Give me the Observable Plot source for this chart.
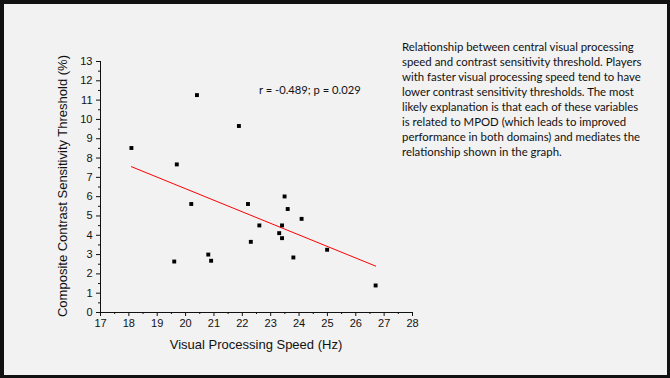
<!DOCTYPE html>
<html>
<head>
<meta charset="utf-8">
<script src="https://cdn.jsdelivr.net/npm/d3@7"></script>
<script src="https://cdn.jsdelivr.net/npm/@observablehq/plot@0.6"></script>
<style>
  html, body { margin: 0; padding: 0; background: #f2f2f2; }
  #wrap { position: relative; width: 670px; height: 378px; overflow: hidden; background: #f2f2f2; }
  #wrap svg { position: absolute; left: 0; top: 0; }
  #frame { position: absolute; left: 0; top: 0; width: 670px; height: 378px; box-sizing: border-box;
           border-top: 4px solid #111; border-left: 4px solid #111; border-right: 3px solid #111; border-bottom: 3px solid #111; }
  .t { position: absolute; white-space: nowrap; color: #111; }
  #note { left: 402px; top: 39px; font-family: Lato, "Open Sans", sans-serif; font-size: 11.4px; line-height: 15px; }
  #stat { left: 259px; top: 82px; font-family: Lato, "Open Sans", sans-serif; font-size: 11.2px; line-height: 15px; }
  #xt { left: 156px; width: 200px; text-align: center; top: 337px; font-family: "Liberation Sans", Arial, sans-serif; font-size: 13px; line-height: 15px; }
  #yt { left: 62px; top: 186px; font-family: "Liberation Sans", Arial, sans-serif; font-size: 13px; line-height: 15px;
        transform: translate(-50%, -50%) rotate(-90deg); }
</style>
</head>
<body>
<div id="wrap"></div>
<script>
// Data
const speed = [19.6, 20.2, 20.8, 20.9, 18.09, 19.69, 20.4, 21.88, 22.2, 22.3, 22.6, 23.49, 23.6, 23.4, 23.3, 23.4, 24.09, 23.8, 24.99, 26.7];
const threshold = [2.64, 5.62, 3.0, 2.68, 8.52, 7.67, 11.26, 9.66, 5.62, 3.66, 4.51, 6.01, 5.36, 4.51, 4.11, 3.85, 4.85, 2.85, 3.25, 1.40];
const xTicks = [17, 18, 19, 20, 21, 22, 23, 24, 25, 26, 27, 28];
const yTicks = [0, 1, 2, 3, 4, 5, 6, 7, 8, 9, 10, 11, 12, 13];
const xTitle = "Visual Processing Speed (Hz)";
const yTitle = "Composite Contrast Sensitivity Threshold (%)";
const statText = "r = -0.489; p = 0.029";
const noteLines = [
  "Relationship between central visual processing",
  "speed and contrast sensitivity threshold. Players",
  "with faster visual processing speed tend to have",
  "lower contrast sensitivity thresholds. The most",
  "likely explanation is that each of these variables",
  "is related to MPOD (which leads to improved",
  "performance in both domains) and mediates the",
  "relationship shown in the graph."
];

const data = speed.map((s, i) => ({speed: s, threshold: threshold[i]}));
const xMinor = d3.range(xTicks[0], xTicks[xTicks.length - 1], 0.5).filter(v => v % 1 !== 0);
const yMinor = d3.range(yTicks[0], yTicks[yTicks.length - 1], 0.5).filter(v => v % 1 !== 0);

const chart = Plot.plot({
  width: 670,
  height: 378,
  marginLeft: 100,
  marginRight: 258,
  marginTop: 61,
  marginBottom: 66,
  style: {background: "transparent", fontFamily: "'Liberation Sans', Arial, sans-serif", fontSize: "11px", color: "#111"},
  x: {domain: [17, 28]},
  y: {domain: [0, 13]},
  marks: [
    Plot.frame({anchor: "left", stroke: "#111"}),
    Plot.frame({anchor: "bottom", stroke: "#111"}),
    Plot.axisX(xTicks, {tickSize: 4, tickPadding: 3, label: null, stroke: "#111", fill: "#111", fontSize: 11}),
    Plot.axisX(xMinor, {tickSize: 2, text: null, label: null, stroke: "#111"}),
    Plot.axisY(yTicks, {tickSize: 4, tickPadding: 4, label: null, stroke: "#111", fill: "#111", fontSize: 11}),
    Plot.axisY(yMinor, {tickSize: 2, text: null, label: null, stroke: "#111"}),
    Plot.linearRegressionY(data, {x: "speed", y: "threshold", stroke: "#ff0000", strokeWidth: 1, ci: 0}),
    Plot.dot(data, {x: "speed", y: "threshold", symbol: "square", r: 2.2, fill: "#000", stroke: null})
  ]
});

const wrap = document.getElementById("wrap");
wrap.appendChild(chart);

function addText(id, html) {
  const d = document.createElement("div");
  d.className = "t";
  d.id = id;
  d.innerHTML = html;
  wrap.appendChild(d);
}
addText("note", noteLines.join("<br>"));
addText("stat", statText);
addText("xt", xTitle);
addText("yt", yTitle);

const frame = document.createElement("div");
frame.id = "frame";
wrap.appendChild(frame);
</script>
</body>
</html>
